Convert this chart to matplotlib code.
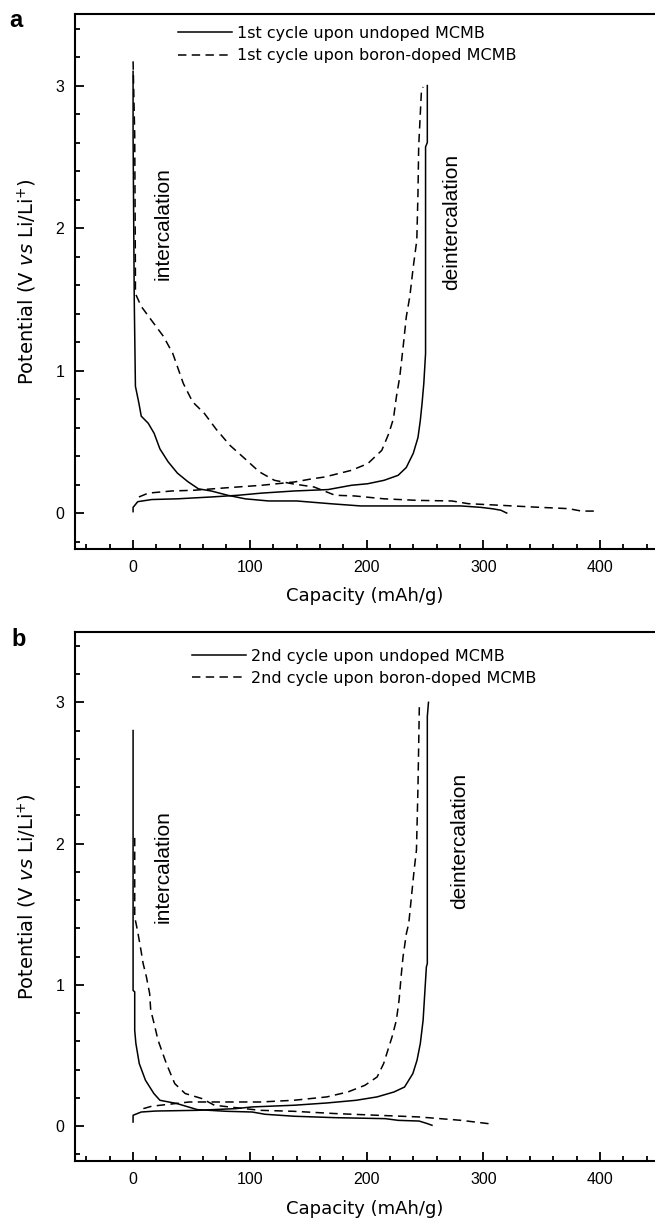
import matplotlib
matplotlib.use('Agg')
import matplotlib.pyplot as plt
from matplotlib.ticker import MultipleLocator

plt.rcParams['font.family'] = ['Liberation Sans', 'DejaVu Sans']
plt.rcParams['mathtext.fontset'] = 'custom'
plt.rcParams['mathtext.rm'] = 'DejaVu Sans'
plt.rcParams['mathtext.it'] = 'DejaVu Sans:italic'

# ---- panel a: 1st cycle ----
a_und_dis_x = [0, 0, 1, 2, 5, 7, 13, 18, 23, 30, 38, 47, 56, 67, 81, 96, 116, 140, 170, 195, 240, 281, 298, 308, 315, 320]
a_und_dis_y = [3.10, 2.65, 1.5, 0.89, 0.77, 0.68, 0.63, 0.56, 0.45, 0.36, 0.28, 0.22, 0.17, 0.155, 0.125, 0.10,
               0.085, 0.085, 0.065, 0.05, 0.05, 0.05, 0.04, 0.03, 0.02, 0.0]
a_und_chg_x = [0, 0, 4, 16, 38, 67, 90, 110, 138, 167, 187, 201, 215, 227, 234, 240, 244, 246, 247.5, 249, 250.5,
               250.5, 252, 252]
a_und_chg_y = [0.01, 0.04, 0.08, 0.095, 0.10, 0.113, 0.125, 0.14, 0.155, 0.165, 0.195, 0.206, 0.23, 0.265, 0.32,
               0.42, 0.53, 0.65, 0.77, 0.91, 1.12, 2.57, 2.6, 3.0]
a_bor_dis_x = [0, 1.4, 2, 2, 7, 16, 26, 34, 38.5, 43, 51, 61, 71, 83, 96, 108, 121, 136, 155, 173, 190, 215, 244,
               273, 287, 316, 344, 373, 384, 397]
a_bor_dis_y = [3.17, 2.65, 1.67, 1.54, 1.45, 1.35, 1.24, 1.12, 1.015, 0.91, 0.78, 0.70, 0.59, 0.475, 0.38, 0.29,
               0.23, 0.206, 0.183, 0.125, 0.12, 0.10, 0.089, 0.085, 0.066, 0.054, 0.042, 0.031, 0.014, 0.014]
a_bor_chg_x = [5, 13, 33, 52, 81, 110, 138, 153, 164, 187, 201, 213, 219, 223, 225.5, 228.4, 231.3, 234, 237, 240,
               243, 244, 244.6, 247, 248.4]
a_bor_chg_y = [0.113, 0.14, 0.155, 0.16, 0.178, 0.195, 0.218, 0.24, 0.253, 0.30, 0.347, 0.44, 0.558, 0.663, 0.815,
               0.956, 1.167, 1.377, 1.52, 1.73, 1.915, 2.245, 2.57, 2.97, 2.99]

# ---- panel b: 2nd cycle ----
b_und_dis_x = [0, 0, 1.4, 1.4, 2.4, 5.3, 10.6, 17.8, 23, 37.5, 55, 80, 102, 113, 138, 173, 216, 227, 245, 252, 256]
b_und_dis_y = [2.80, 0.96, 0.95, 0.678, 0.584, 0.442, 0.324, 0.23, 0.182, 0.159, 0.116, 0.104, 0.099, 0.083, 0.069,
               0.059, 0.052, 0.04, 0.035, 0.017, 0.005]
b_und_chg_x = [0, 0, 7, 19.6, 55, 88, 102, 138, 166, 191, 209, 223.5, 232.5, 239.6, 243.2, 246, 248.4, 251.2, 252,
               252, 253]
b_und_chg_y = [0.028, 0.076, 0.099, 0.106, 0.111, 0.123, 0.135, 0.147, 0.163, 0.182, 0.206, 0.241, 0.276, 0.371,
               0.466, 0.584, 0.749, 1.127, 1.15, 2.9, 3.0]
b_bor_dis_x = [1.4, 1.4, 3.7, 6.5, 8.6, 11.4, 14.2, 15.1, 18, 21.4, 28.5, 35.7, 44.6, 59, 69.6, 87.6, 109, 137.6,
               173, 209, 245, 281, 309]
b_bor_dis_y = [2.04, 1.48, 1.387, 1.257, 1.151, 1.056, 0.938, 0.82, 0.726, 0.607, 0.442, 0.30, 0.23, 0.194, 0.147,
               0.13, 0.111, 0.104, 0.088, 0.076, 0.064, 0.04, 0.012]
b_bor_chg_x = [8.8, 16, 48, 84, 109, 137.6, 166, 184, 198.5, 209, 214.6, 218.2, 221.8, 225.5, 227.8, 229.8, 231.2,
               234.1, 236.1, 238.4, 240.7, 242.7, 244, 245.2]
b_bor_chg_y = [0.123, 0.14, 0.17, 0.17, 0.17, 0.182, 0.206, 0.241, 0.288, 0.347, 0.442, 0.537, 0.631, 0.749, 0.891,
               1.08, 1.198, 1.364, 1.434, 1.623, 1.812, 1.954, 2.4, 2.99]

labels_a = ['1st cycle upon undoped MCMB', '1st cycle upon boron-doped MCMB']
labels_b = ['2nd cycle upon undoped MCMB', '2nd cycle upon boron-doped MCMB']

W, H = 655, 1222
fig = plt.figure(figsize=(W / 100, H / 100), dpi=100)
ax1 = fig.add_axes([74.7 / W, 1 - 548.7 / H, 580.3 / W, 534.4 / H])
ax2 = fig.add_axes([74.7 / W, 1 - 1161.3 / H, 580.3 / W, 529.6 / H])

dash = (0, (5.5, 3.5))
lw = 1.1


def style(ax):
    ax.set_xlim(-50, 447)
    ax.set_ylim(-0.25, 3.5)
    ax.spines['right'].set_visible(False)
    for s in ['left', 'bottom', 'top']:
        ax.spines[s].set_linewidth(1.5)
    ax.xaxis.set_major_locator(MultipleLocator(100))
    ax.xaxis.set_minor_locator(MultipleLocator(20))
    ax.yaxis.set_major_locator(MultipleLocator(1))
    ax.yaxis.set_minor_locator(MultipleLocator(0.2))
    ax.tick_params(which='both', direction='in', top=False, right=False, width=1.3, labelsize=11.5)
    ax.tick_params(which='major', length=6.3)
    ax.tick_params(which='minor', length=3.8)
    ax.tick_params(axis='y', pad=7.5)
    ax.tick_params(axis='x', pad=8)
    ax.set_xlabel('Capacity (mAh/g)', family='DejaVu Sans', fontsize=13, labelpad=9)
    ax.set_ylabel('Potential (V $\\mathit{vs}$ Li/Li$^{+}$)', family='DejaVu Sans', fontsize=14, labelpad=12)


for ax, d, lab in [
    (ax1, (a_und_dis_x, a_und_dis_y, a_und_chg_x, a_und_chg_y,
           a_bor_dis_x, a_bor_dis_y, a_bor_chg_x, a_bor_chg_y), labels_a),
    (ax2, (b_und_dis_x, b_und_dis_y, b_und_chg_x, b_und_chg_y,
           b_bor_dis_x, b_bor_dis_y, b_bor_chg_x, b_bor_chg_y), labels_b),
]:
    ax.plot(d[0], d[1], color='black', lw=lw, label=lab[0])
    ax.plot(d[2], d[3], color='black', lw=lw)
    ax.plot(d[4], d[5], color='black', lw=lw, linestyle=dash, label=lab[1])
    ax.plot(d[6], d[7], color='black', lw=lw, linestyle=dash)
    style(ax)

ax1.legend(loc='upper left', bbox_to_anchor=(0.178, 0.978), frameon=False, borderpad=0, borderaxespad=0,
           handlelength=3.4, handletextpad=0.3, labelspacing=0.45, prop={'family': 'DejaVu Sans', 'size': 11.5})
ax2.legend(loc='upper left', bbox_to_anchor=(0.202, 0.968), frameon=False, borderpad=0, borderaxespad=0,
           handlelength=3.4, handletextpad=0.3, labelspacing=0.45, prop={'family': 'DejaVu Sans', 'size': 11.5})

ax1.text(26, 2.03, 'intercalation', rotation=90, ha='center', va='center', fontsize=15)
ax1.text(272.7, 2.045, 'deintercalation', rotation=90, ha='center', va='center', fontsize=15)
ax2.text(25.7, 1.84, 'intercalation', rotation=90, ha='center', va='center', fontsize=15)
ax2.text(279.5, 2.02, 'deintercalation', rotation=90, ha='center', va='center', fontsize=15)

fig.text(9 / W, 1 - 9 / H, 'a', fontsize=17, fontweight='bold', va='top', ha='left')
fig.text(11 / W, 1 - 628 / H, 'b', fontsize=17, fontweight='bold', va='top', ha='left')

fig.savefig('out.png', dpi=100)
